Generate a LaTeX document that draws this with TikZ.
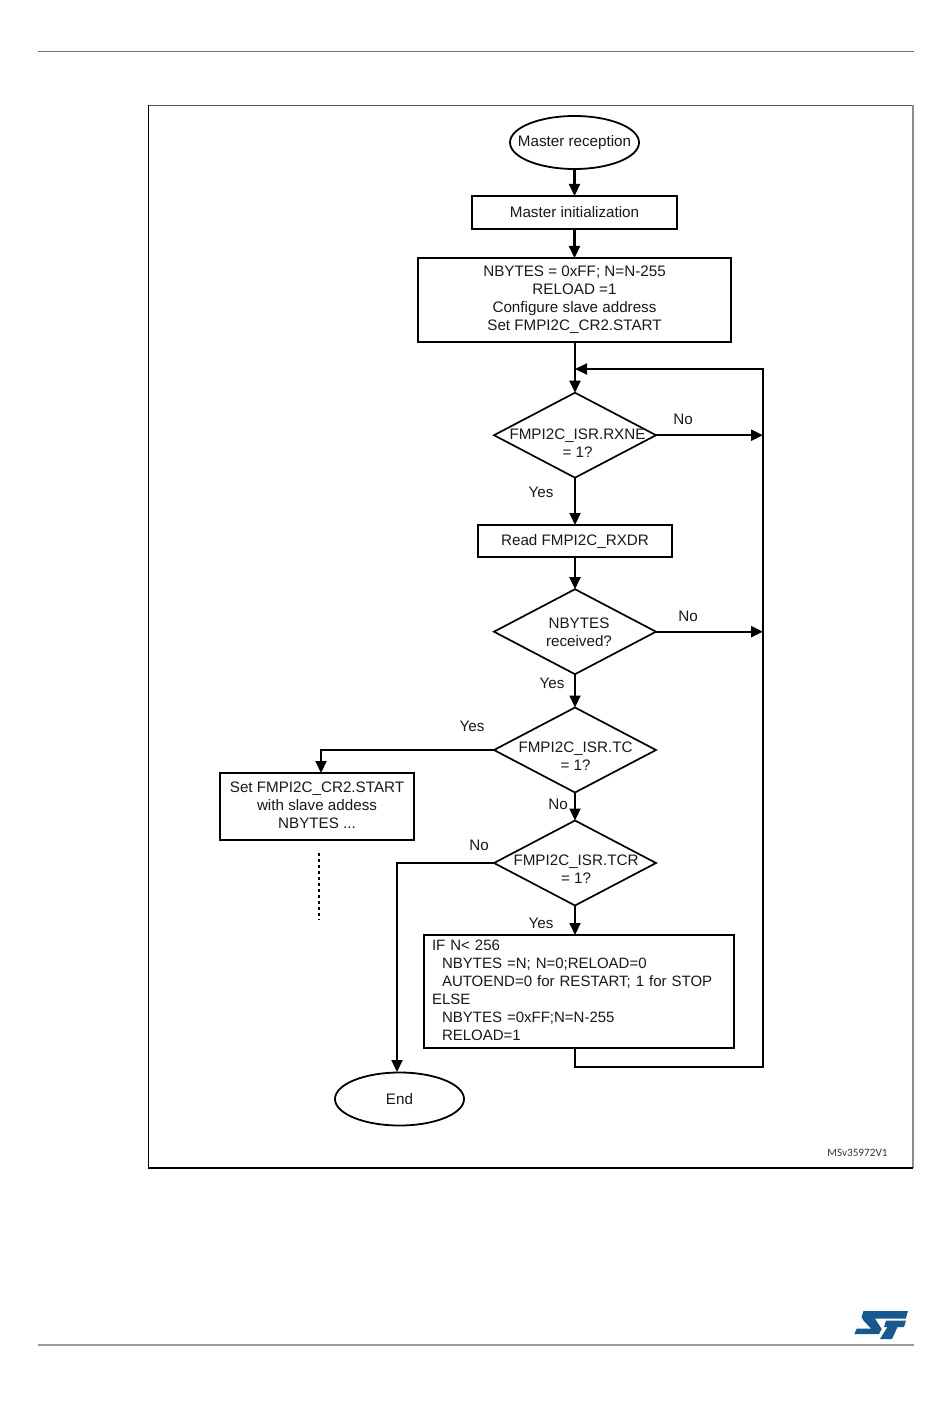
\documentclass[tikz,border=0pt]{standalone}
\usepackage{fontspec}
\setmainfont{Liberation Sans}
\newfontfamily\idfont{Carlito}
\usetikzlibrary{shapes.geometric,arrows.meta}
\definecolor{stblue}{HTML}{17598F}
\newcommand\liftlast{\rule[-2pt]{0pt}{1pt}}
\tikzset{
  x=1pt,y=-1pt,
  base/.style={inner sep=0pt,outer sep=0pt,font=\fontsize{15.2}{18}\selectfont,text=black!90},
  flowbox/.style={base,draw=black,line width=1.8pt,rectangle,align=center},
  term/.style={base,draw=black,line width=1.8pt,ellipse,minimum width=129pt,minimum height=53pt},
  decide/.style={base,draw=black,line width=1.7pt,diamond,minimum width=162pt,minimum height=85pt},
  dtext/.style={base,align=center},
  tag/.style={base},
  flow/.style={draw=black,line width=2.1pt,-{Triangle[length=12pt,width=11pt]}},
}
\begin{document}
\begin{tikzpicture}
\useasboundingbox (0,0) rectangle (950,1420);
\fill[white] (0,0) rectangle (950,1420);
% page furniture
\draw[line width=1.5pt,black!55] (38,51.5) -- (914,51.5);
\draw[line width=2pt,black!40] (38,1345) -- (914,1345);
\draw[line width=1.2pt,black!65] (149,105.5) -- (913,105.5);
\draw[line width=1.2pt,black!45] (913,105.5) -- (913,1168);
\draw[line width=1.2pt,black] (148.6,105) -- (148.6,1168) -- (913,1168);
\node[inner sep=0pt,font=\idfont\fontsize{11.2}{12}\selectfont,text=black!80] (id) at (857.5,1153) {MSv35972V1};
% logo
\fill[stblue] (863.5,1311) -- (908,1311) -- (905.7,1318.7) -- (875,1318.7) -- (881.7,1329) -- (879,1334) -- (854.3,1334) -- (856.8,1328.5) -- (871,1328.5) -- (863.5,1320.5) -- (861.5,1317) -- cycle;
\fill[stblue] (886,1320.5) -- (906,1320.5) -- (904,1327) -- (897.5,1327) -- (892,1339) -- (880,1339) -- (887.5,1327) -- (884,1327) -- cycle;
% nodes
\node[term] (start) at (574.5,142.5) {\makebox[0pt]{Master reception}};
\node[flowbox,minimum width=205pt,minimum height=33pt] (init) at (574.5,212.5) {Master initialization};
\node[flowbox,minimum width=313pt,minimum height=84pt] (cfg) at (574.5,300) {NBYTES = 0xFF; N=N-255\\RELOAD =1\\Configure slave address\\Set FMPI2C\_CR2.START};
\node[decide] (d1) at (575,435.2) {};
\node[dtext] (d1t) at (577.5,443) {FMPI2C\_ISR.RXNE\\= 1?};
\node[flowbox,minimum width=194pt,minimum height=32pt] (read) at (575,541) {Read FMPI2C\_RXDR};
\node[decide] (d2) at (575,631.7) {};
\node[dtext] (d2t) at (579,632) {NBYTES\\received?};
\node[decide] (d3) at (575,750) {};
\node[dtext] (d3t) at (575.5,756) {FMPI2C\_ISR.TC\\= 1?};
\node[decide] (d4) at (575,863) {};
\node[dtext] (d4t) at (576,869) {FMPI2C\_ISR.TCR\\= 1?};
\node[flowbox,minimum width=194pt,minimum height=67pt] (set) at (317,806.5) {Set FMPI2C\_CR2.START\\with slave addess\\NBYTES ...\liftlast};
\node[flowbox,minimum width=310pt,minimum height=113pt,text width=294pt,align=left,font=\fontsize{15}{18}\selectfont] (calc) at (579,991.5) {IF N< 256\\\hspace*{10pt}NBYTES =N; N=0;RELOAD=0\\\hspace*{10pt}AUTOEND=0 for RESTART; 1 for STOP\\ELSE\\\hspace*{10pt}NBYTES =0xFF;N=N-255\\\hspace*{10pt}RELOAD=1\liftlast};
\node[term] (end) at (399.5,1099) {\raisebox{1pt}{End}};
% labels
\node[tag] (n1) at (683,419) {No};
\node[tag] (y1) at (541,492) {Yes};
\node[tag] (n2) at (688,616) {No};
\node[tag] (y2) at (552,683) {Yes};
\node[tag] (y3) at (472,726) {Yes};
\node[tag] (n3) at (558,804) {No};
\node[tag] (n4) at (479,845) {No};
\node[tag] (y4) at (541,923) {Yes};
% helper points
\coordinate (loopjoin) at (575,369);
\coordinate (loopcorner) at (763,369);
\coordinate (backcorner) at (763,1067);
\coordinate (backstart) at (575,1067);
\coordinate (calcout) at (575,1048);
\coordinate (calcin) at (575,935);
\coordinate (setin) at (321,773);
\coordinate (endin) at (397,1072);
\coordinate (dot1) at (319,853);
\coordinate (dot2) at (319,920);
% connectors
\draw[flow] (start) -- (init);
\draw[flow] (init) -- (cfg);
\draw[flow] (cfg.south -| d1) -- (d1.north);
\draw[flow] (d1) -- (read);
\draw[flow] (read) -- (d2);
\draw[flow] (d2) -- (d3);
\draw[flow] (d3) -- (d4);
\draw[flow] (d4.south) -- (calcin);
\draw[flow] (d1.east) -- (d1.east -| loopcorner);
\draw[flow] (d2.east) -- (d2.east -| loopcorner);
\draw[flow] (d3.west) -| (setin);
\draw[flow] (d4.west) -| (endin);
\draw[flow] (calcout) -- (backstart) -- (backcorner) -- (loopcorner) -- (loopjoin);
\draw[draw=black,line width=2pt,dash pattern=on 3pt off 3pt] (dot1) -- (dot2);
\end{tikzpicture}
\end{document}
